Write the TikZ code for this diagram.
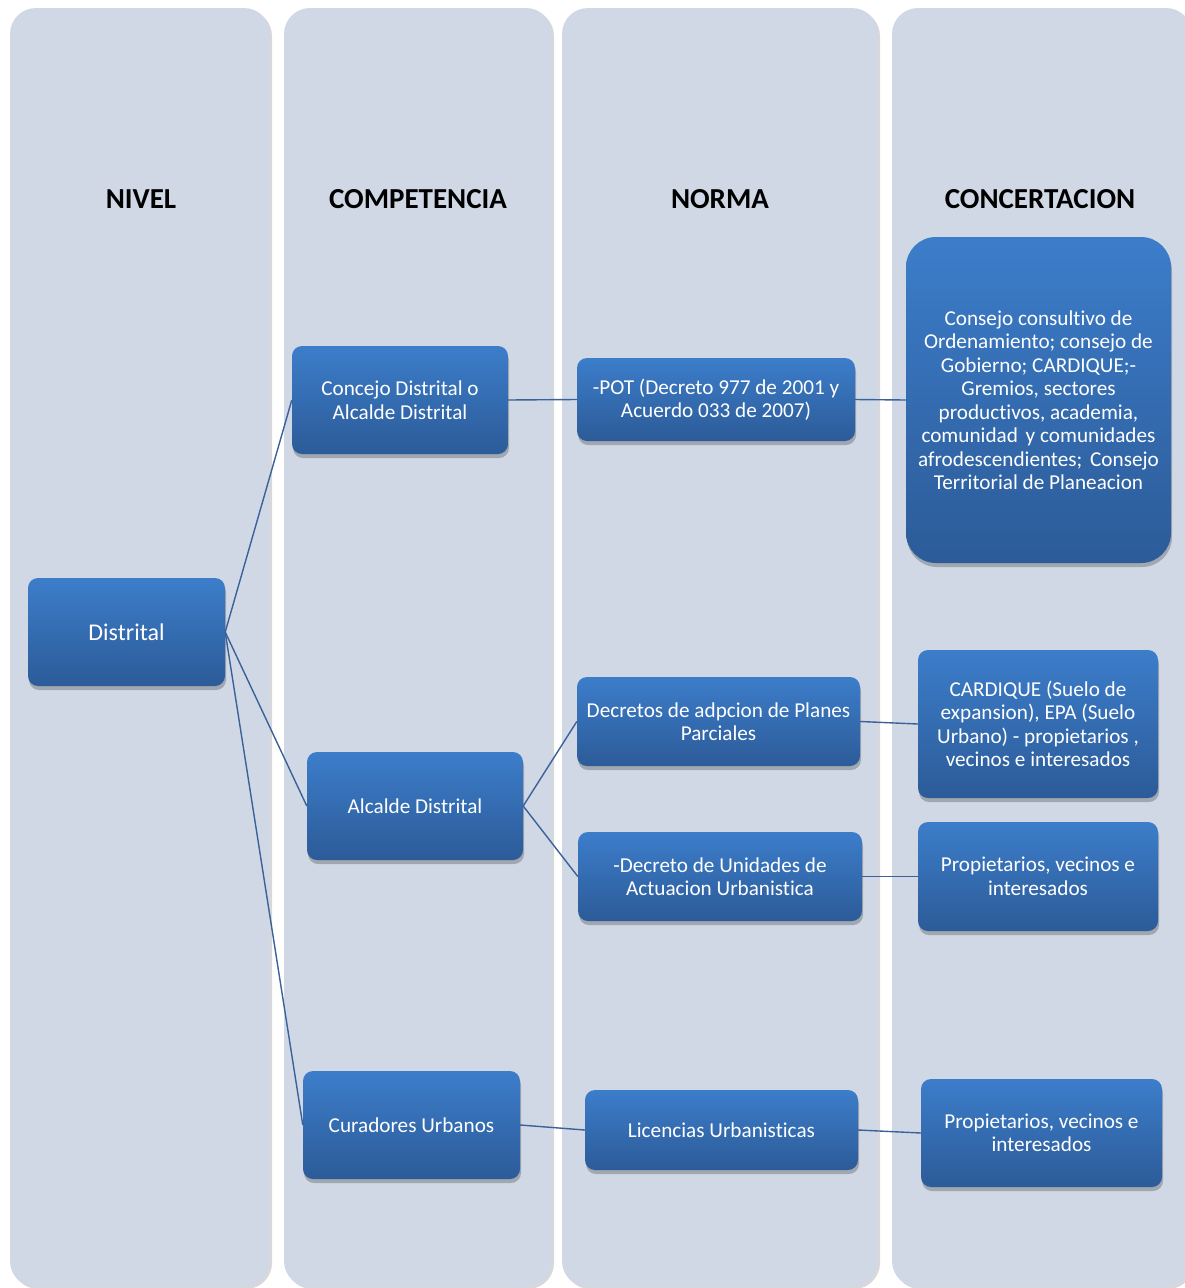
\documentclass[tikz,border=0pt]{standalone}
\usepackage{fontspec}
\setmainfont{Carlito}[Ligatures={NoCommon}]
\usetikzlibrary{shadows}
\definecolor{panelbg}{HTML}{D0D8E6}
\definecolor{boxtop}{HTML}{3C7DCA}
\definecolor{boxbot}{HTML}{2C5B98}
\definecolor{linkc}{HTML}{3A6198}
\tikzset{
  panel/.style={fill=panelbg, rounded corners=26pt, inner sep=0pt,
    drop shadow={shadow xshift=2pt, shadow yshift=-2pt, opacity=0.25, fill=black!60}},
  header/.style={font=\fontsize{29}{34}\selectfont\bfseries, text=black},
  sbox/.style={rounded corners=10pt, top color=boxtop, bottom color=boxbot, draw=none,
    text=white, align=center, inner sep=0pt,
    font=\fontsize{21.2}{23.5}\selectfont,
    drop shadow={shadow xshift=1pt, shadow yshift=-4pt, opacity=0.35, fill=black!70}},
  link/.style={draw=linkc, line width=1.4pt}
}
\begin{document}
\begin{tikzpicture}[x=1pt,y=-1pt]
\useasboundingbox (0,0) rectangle (1185,1288);
\fill[white] (0,0) rectangle (1185,1288);
% panels
\node[panel, minimum width=260pt, minimum height=1279pt] (p1) at (140,647.5) {};
\node[panel, minimum width=268pt, minimum height=1279pt] (p2) at (418,647.5) {};
\node[panel, minimum width=316pt, minimum height=1279pt] (p3) at (720,647.5) {};
\node[panel, minimum width=300pt, minimum height=1279pt] (p4) at (1042,647.5) {};
% headers
\node[header] (h1) at (141,199) {NIVEL};
\node[header] (h2) at (418,199) {COMPETENCIA};
\node[header] (h3) at (720,199) {NORMA};
\node[header] (h4) at (1040,199) {CONCERTACION};
% boxes
\node[sbox, minimum width=197pt, minimum height=108pt, font=\fontsize{24}{28}\selectfont] (dist) at (126.5,632) {Distrital};
\node[sbox, minimum width=216pt, minimum height=108pt] (conc) at (400,400) {Concejo Distrital o\\Alcalde Distrital};
\node[sbox, minimum width=216pt, minimum height=108pt] (alc) at (415,806) {Alcalde Distrital};
\node[sbox, minimum width=217pt, minimum height=108pt] (cur) at (411.5,1125) {Curadores Urbanos};
\node[sbox, minimum width=278pt, minimum height=83pt] (pot) at (716,399.5) {-POT (Decreto 977 de 2001 y\\Acuerdo 033 de 2007)};
\node[sbox, minimum width=283pt, minimum height=89pt] (dec) at (718.5,721.5) {Decretos de adpcion de Planes\\Parciales};
\node[sbox, minimum width=284pt, minimum height=89pt] (uni) at (720,876.5) {-Decreto de Unidades de\\Actuacion Urbanistica};
\node[sbox, minimum width=273pt, minimum height=80pt] (lic) at (721.5,1130) {Licencias Urbanisticas};
\node[sbox, rounded corners=30pt, minimum width=265pt, minimum height=326pt] (cons) at (1038.5,400) {Consejo consultivo de\\Ordenamiento; consejo de\\Gobierno; CARDIQUE;-\\Gremios, sectores\\productivos, academia,\\comunidad\hspace{3pt} y comunidades\\afrodescendientes;\hspace{3pt} Consejo\\Territorial de Planeacion};
\node[sbox, minimum width=240pt, minimum height=148pt] (card) at (1038,724) {CARDIQUE (Suelo de\\expansion), EPA (Suelo\\Urbano) - propietarios ,\\vecinos e interesados};
\node[sbox, minimum width=240pt, minimum height=109pt] (prop1) at (1038,876.5) {Propietarios, vecinos e\\interesados};
\node[sbox, minimum width=241pt, minimum height=108pt] (prop2) at (1041.5,1133) {Propietarios, vecinos e\\interesados};
% connectors
\draw[link] (dist.east) -- (conc.west);
\draw[link] (dist.east) -- (alc.west);
\draw[link] (dist.east) -- (cur.west);
\draw[link] (conc.east) -- (pot.west);
\draw[link] (pot.east) -- (cons.west);
\draw[link] (alc.east) -- (dec.west);
\draw[link] (alc.east) -- (uni.west);
\draw[link] (dec.east) -- (card.west);
\draw[link] (uni.east) -- (prop1.west);
\draw[link] (cur.east) -- (lic.west);
\draw[link] (lic.east) -- (prop2.west);
\end{tikzpicture}
\end{document}
